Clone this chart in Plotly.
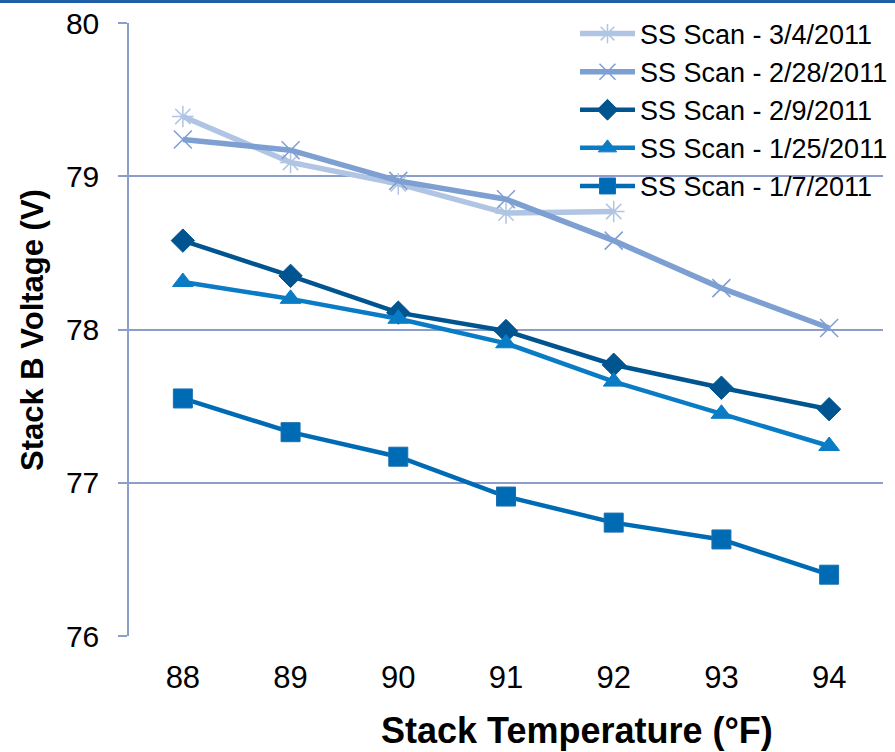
import plotly.graph_objects as go

temps = [88, 89, 90, 91, 92, 93, 94]
tick_labels = ["88", "89", "90", "91", "92", "93", "94"]

names = ["SS Scan - 3/4/2011", "SS Scan - 2/28/2011", "SS Scan - 2/9/2011",
         "SS Scan - 1/25/2011", "SS Scan - 1/7/2011"]
v_0304 = [79.39, 79.09, 78.95, 78.76, 78.77, None, None]
v_0228 = [79.24, 79.17, 78.97, 78.85, 78.58, 78.27, 78.01]
v_0209 = [78.58, 78.35, 78.11, 77.99, 77.77, 77.62, 77.48]
v_0125 = [78.31, 78.20, 78.07, 77.91, 77.66, 77.45, 77.24]
v_0107 = [77.55, 77.33, 77.17, 76.91, 76.74, 76.63, 76.40]

series = [v_0304, v_0228, v_0209, v_0125, v_0107]
styles = [
    dict(color="#b0c4e3", width=5.5, symbol="asterisk-open", msize=18, mline="#a9bfe2"),
    dict(color="#7d9fd2", width=5.5, symbol="x-thin-open", msize=18, mline="#7d9fd2"),
    dict(color="#00548f", width=4.5, symbol="diamond", msize=18, mline="#00548f"),
    dict(color="#0a7cc6", width=4.5, symbol="triangle-up", msize=18, mline="#0a7cc6"),
    dict(color="#006bb5", width=4.5, symbol="square", msize=19, mline="#1a6fb0"),
]

fig = go.Figure()
for name, vals, s in zip(names, series, styles):
    fig.add_trace(go.Scatter(
        x=temps, y=vals, name=name, mode="lines+markers",
        line=dict(color=s["color"], width=s["width"]),
        marker=dict(symbol=s["symbol"], size=s["msize"], color=s["color"],
                    line=dict(color=s["mline"], width=1.5 if "open" in s["symbol"] else 1)),
        connectgaps=False,
    ))

grid = "#8c9dc9"
fig.update_layout(
    width=895, height=752,
    margin=dict(l=129, r=12, t=23, b=116, autoexpand=False),
    paper_bgcolor="white", plot_bgcolor="white",
    font=dict(family="Arial, Liberation Sans, sans-serif", color="black", size=27),
    showlegend=True,
    legend=dict(x=0.5915, y=1.022, xanchor="left", yanchor="top",
                bgcolor="rgba(0,0,0,0)", font=dict(size=27),
                itemwidth=55, tracegroupgap=0, itemsizing="trace"),
    xaxis=dict(range=[87.5, 94.5], tickvals=temps, ticktext=tick_labels,
               showgrid=False, zeroline=False, showline=False,
               ticks="", tickfont=dict(size=31), ticklabelstandoff=20),
    yaxis=dict(range=[76, 80], dtick=1, showgrid=True, gridcolor=grid, gridwidth=1.5,
               zeroline=False, showline=True, linecolor=grid, linewidth=1.5,
               ticks="outside", ticklen=9, tickcolor=grid, tickwidth=1.5,
               tickfont=dict(size=30), ticklabelstandoff=13),
    annotations=[
        dict(text="<b>Stack B Voltage (V)</b>", xref="paper", yref="paper",
             x=(32 - 129) / 754, y=(636 - 330) / 613, textangle=-90, showarrow=False,
             font=dict(size=31), xanchor="center", yanchor="middle"),
        dict(text="<b>Stack Temperature (°F)</b>", xref="paper", yref="paper",
             x=(577 - 129) / 754, y=(636 - 730) / 613, showarrow=False,
             font=dict(size=36), xanchor="center", yanchor="middle"),
    ],
    shapes=[
        dict(type="rect", xref="paper", yref="paper",
             x0=-0.2, x1=1.02, y0=1.0326, y1=1.04, fillcolor="#1d5fa7",
             line=dict(width=0)),
    ],
)

fig.write_html("out.html")
